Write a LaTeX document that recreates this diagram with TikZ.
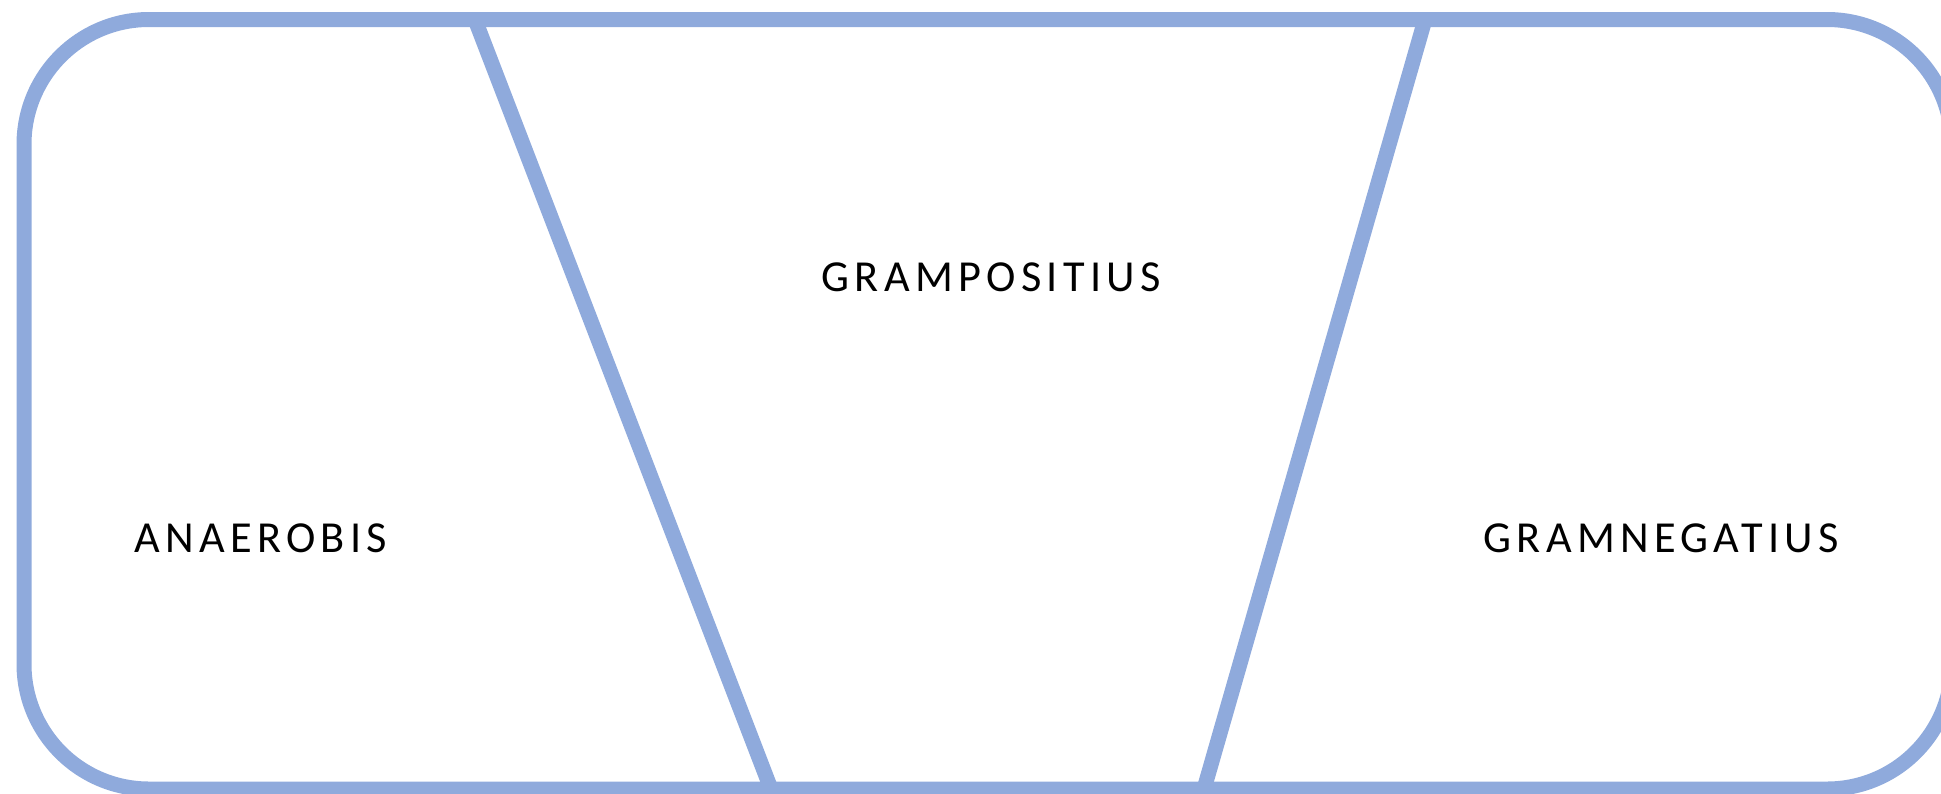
\documentclass[tikz,border=0pt]{standalone}
\usepackage{fontspec}
\setmainfont[LetterSpace=12]{Carlito}
\definecolor{edge}{HTML}{8FAADC}
\begin{document}
\begin{tikzpicture}[x=0.5pt,y=-0.5pt,
  border/.style={draw=edge,line width=7.5pt},
  label/.style={inner sep=0pt,anchor=base west,font=\fontsize{22.15pt}{26pt}\selectfont}]
\useasboundingbox (0,0) rectangle (1941,793);
\begin{scope}
\clip (0,0) rectangle (1941,793);
\draw[border,rounded corners=62.5pt] (24,19.5) rectangle (1952,789);
\coordinate (a1) at (475,19.5);
\coordinate (a2) at (771,789);
\coordinate (b1) at (1425,19.5);
\coordinate (b2) at (1204,789);
\draw[border] (a1) -- (a2);
\draw[border] (b1) -- (b2);
\end{scope}
\node[label] (pos) at (821,291) {GRAMPOSITIUS};
\node[label] (ana) at (134,552.5) {ANAEROBIS};
\node[label] (neg) at (1483,552.5) {GRAMNEGATIUS};
\end{tikzpicture}
\end{document}
